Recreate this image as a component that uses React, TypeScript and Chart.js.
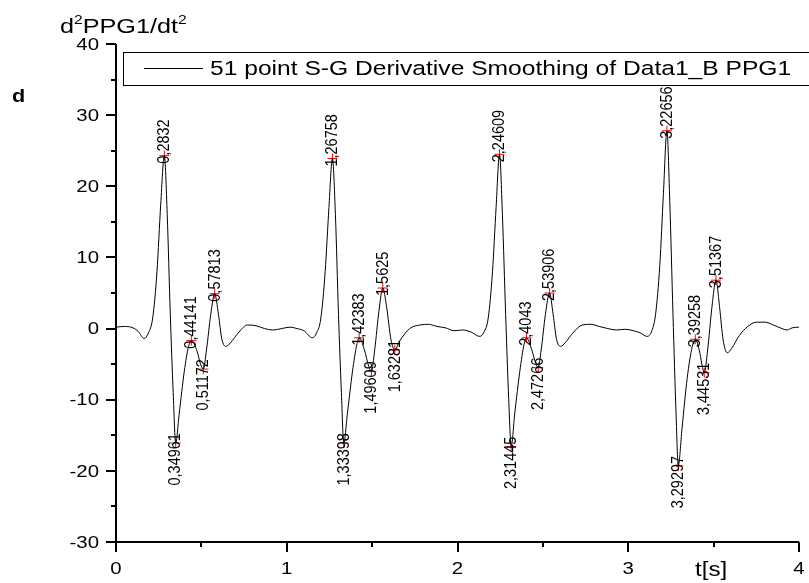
import React, { useEffect, useRef } from 'react';
import { Chart, registerables } from 'chart.js';
Chart.register(...registerables);

// ---- data ----
const curveT = [
  0.0, 0.05, 0.1, 0.13, 0.165, 0.19, 0.215, 0.24, 0.262, 0.2832, 0.3, 0.318, 0.335, 0.34961, 0.37, 0.4, 0.425, 0.44141,
  0.475, 0.495, 0.51172, 0.53, 0.555, 0.57813, 0.6, 0.62, 0.645, 0.67, 0.72, 0.77, 0.82, 0.87, 0.92, 0.97, 1.02, 1.06,
  1.1, 1.15, 1.175, 1.2, 1.225, 1.247, 1.26758, 1.285, 1.303, 1.32, 1.33398, 1.355, 1.385, 1.41, 1.42383, 1.455, 1.48,
  1.49609, 1.515, 1.54, 1.5625, 1.585, 1.61, 1.63281, 1.66, 1.72, 1.78, 1.83, 1.88, 1.93, 1.98, 2.03, 2.08, 2.13,
  2.155, 2.18, 2.205, 2.226, 2.24609, 2.263, 2.282, 2.3, 2.31445, 2.335, 2.365, 2.39, 2.4043, 2.435, 2.46, 2.47266,
  2.49, 2.515, 2.53906, 2.56, 2.58, 2.605, 2.63, 2.68, 2.73, 2.78, 2.83, 2.88, 2.93, 2.98, 3.03, 3.07, 3.11,
  3.135, 3.16, 3.185, 3.206, 3.22656, 3.243, 3.262, 3.28, 3.29297, 3.315, 3.345, 3.375, 3.39258, 3.42, 3.435, 3.44531,
  3.465, 3.49, 3.51367, 3.535, 3.555, 3.58, 3.605, 3.65, 3.7, 3.75, 3.8, 3.85, 3.9, 3.93, 3.96, 4.0,
];
const curveV = [
  0.2, 0.3, 0.1, -0.4, -1.4, -0.6, 1.5, 8, 17.5, 24.3, 16, 2, -9, -16.1, -12, -6, -2.5, -1.7,
  -3.2, -5.0, -5.7, -3, 2, 4.9, 2, -1.5, -2.5, -2.0, -0.5, 0.5, 0.4, 0.0, -0.2, 0.0, 0.2, 0.0,
  -0.3, -1.3, -0.6, 1.5, 8, 17, 23.9, 16, 2, -9, -16.1, -12, -6, -2.3, -1.3, -3, -5.3,
  -6.0, -3, 2.5, 5.7, 3, -1.5, -3.0, -1.8, 0.0, 0.5, 0.6, 0.3, 0.1, -0.3, -0.2, -0.5, -1.1,
  -0.5, 1.5, 8, 17, 24.5, 16, 2, -10, -16.6, -12, -6, -2.2, -1.3, -3, -5, -5.5,
  -3, 2, 5.0, 2, -1.5, -2.5, -2.0, -0.5, 0.5, 0.6, 0.3, 0.0, -0.2, -0.1, -0.3, -0.6, -1.1,
  -0.5, 2, 9, 19, 27.8, 18, 2, -12, -19.3, -14, -7, -2.5, -1.5, -3.5, -5.5, -6.2,
  -3, 3, 6.8, 3, -1.5, -3.4, -2.8, -1.0, 0.3, 0.9, 0.9, 0.5, 0.0, -0.2, 0.1, 0.2,
];
const markT = [
  0.2832, 0.34961, 0.44141, 0.51172, 0.57813,
  1.26758, 1.33398, 1.42383, 1.49609, 1.5625, 1.63281,
  2.24609, 2.31445, 2.4043, 2.47266, 2.53906,
  3.22656, 3.29297, 3.39258, 3.44531, 3.51367,
];
const markV = [
  24.3, -16.1, -1.7, -5.7, 4.9,
  23.9, -16.1, -1.3, -6.0, 5.7, -3.0,
  24.5, -16.6, -1.3, -5.5, 5.0,
  27.8, -19.3, -1.5, -6.2, 6.8,
];
const markIsMax = [
  true, false, true, false, true,
  true, false, true, false, true, false,
  true, false, true, false, true,
  true, false, true, false, true,
];
const xTicks = [0, 1, 2, 3, 4];
const yTicks = [-30, -20, -10, 0, 10, 20, 30, 40];
const legendLabel = '51 point S-G Derivative Smoothing of Data1_B PPG1';
const xTitle = 't[s]';
const panelLabel = 'd';

const FONT = "'Liberation Sans', Arial, sans-serif";
const STRETCH = 1.2;

function txt(ctx: any, s: string, x: number, y: number, font: string, align: string, baseline: string, stretch = STRETCH) {
  ctx.save();
  ctx.font = font;
  ctx.textAlign = align;
  ctx.textBaseline = baseline;
  ctx.translate(x, y);
  ctx.scale(stretch, 1);
  ctx.fillText(s, 0, 0);
  const w = ctx.measureText(s).width * stretch;
  ctx.restore();
  return w;
}

const decor = {
  id: 'decor',
  afterDatasetsDraw(chart: any) {
    const { ctx } = chart;
    const xs = chart.scales.x;
    const ys = chart.scales.y;
    ctx.save();
    ctx.fillStyle = '#000';
    ctx.font = `14.5px ${FONT}`;
    ctx.textBaseline = 'middle';
    for (let i = 0; i < markT.length; i++) {
      const px = xs.getPixelForValue(markT[i]);
      const py = ys.getPixelForValue(markV[i]);
      const label = String(markT[i]).replace('.', ',');
      ctx.save();
      ctx.translate(px, py);
      ctx.scale(STRETCH, 1);
      ctx.rotate(-Math.PI / 2);
      if (markIsMax[i]) {
        ctx.textAlign = 'left';
        ctx.fillText(label, -8, 0);
      } else {
        ctx.textAlign = 'right';
        ctx.fillText(label, 10, 0);
      }
      ctx.restore();
    }
    ctx.restore();
  },
  afterDraw(chart: any) {
    const { ctx, chartArea } = chart;
    const xs = chart.scales.x;
    const ys = chart.scales.y;
    const { left, right, top, bottom } = chartArea;
    ctx.save();
    ctx.strokeStyle = '#000';
    ctx.fillStyle = '#000';
    // axes
    ctx.lineWidth = 2;
    ctx.beginPath();
    ctx.moveTo(left, top);
    ctx.lineTo(left, bottom);
    ctx.moveTo(left - 1, bottom);
    ctx.lineTo(right, bottom);
    ctx.stroke();
    // y ticks
    for (let v = ys.min; v <= ys.max + 1e-9; v += 5) {
      const py = Math.round(ys.getPixelForValue(v));
      const major = Math.abs(v % 10) < 1e-9;
      const len = major ? 10 : 5;
      ctx.beginPath();
      ctx.moveTo(left - len, py);
      ctx.lineTo(left, py);
      ctx.stroke();
    }
    for (const v of yTicks) {
      txt(ctx, String(v), left - 17, ys.getPixelForValue(v) + 1, `17px ${FONT}`, 'right', 'middle');
    }
    // x ticks
    for (let v = xs.min; v <= xs.max + 1e-9; v += 0.5) {
      const px = Math.round(xs.getPixelForValue(v));
      const major = Math.abs(v % 1) < 1e-9;
      const len = major ? 10 : 5;
      ctx.beginPath();
      ctx.moveTo(px, bottom);
      ctx.lineTo(px, bottom + len);
      ctx.stroke();
    }
    for (const v of xTicks) {
      txt(ctx, String(v), xs.getPixelForValue(v), bottom + 27, `17px ${FONT}`, 'center', 'middle');
    }
    // x title
    txt(ctx, xTitle, 695, 576, `21px ${FONT}`, 'left', 'alphabetic', 1.15);
    // y title with superscripts
    let x = 60;
    const base = 33;
    const parts: [string, boolean][] = [['d', false], ['2', true], ['PPG1/dt', false], ['2', true]];
    for (const [t, sup] of parts) {
      x += txt(ctx, t, x, sup ? base - 9 : base, sup ? `13px ${FONT}` : `21px ${FONT}`, 'left', 'alphabetic');
    }
    // panel label
    txt(ctx, panelLabel, 12, 102, `bold 18px ${FONT}`, 'left', 'alphabetic');
    // legend
    ctx.lineWidth = 1;
    ctx.fillStyle = '#fff';
    ctx.fillRect(123.5, 52.5, 700, 33);
    ctx.strokeRect(123.5, 52.5, 700, 33);
    ctx.beginPath();
    ctx.moveTo(144, 68.5);
    ctx.lineTo(203, 68.5);
    ctx.stroke();
    ctx.fillStyle = '#000';
    txt(ctx, legendLabel, 210, 69, `20.5px ${FONT}`, 'left', 'middle');
    ctx.restore();
  },
};

export default function App() {
  const ref = useRef<HTMLCanvasElement | null>(null);
  useEffect(() => {
    if (!ref.current) return;
    const chart = new Chart(ref.current, {
      type: 'line',
      data: {
        datasets: [
          {
            label: legendLabel,
            data: curveT.map((t, i) => ({ x: t, y: curveV[i] })),
            borderColor: '#000',
            borderWidth: 1,
            pointRadius: 0,
            cubicInterpolationMode: 'monotone',
            fill: false,
          },
          {
            type: 'scatter',
            label: 'marks',
            data: markT.map((t, i) => ({ x: t, y: markV[i] })),
            pointStyle: 'cross',
            pointRadius: 5,
            borderColor: '#ff0000',
            backgroundColor: '#ff0000',
            borderWidth: 1,
            showLine: false,
          },
        ],
      },
      options: {
        animation: false,
        responsive: false,
        events: [],
        layout: { padding: { top: 44, right: 10, left: 0, bottom: 0 } },
        plugins: { legend: { display: false }, tooltip: { enabled: false } },
        scales: {
          x: {
            type: 'linear',
            min: 0,
            max: 4,
            ticks: { display: false },
            grid: { display: false },
            border: { display: false },
            afterFit: (s: any) => { s.height = 41; },
          },
          y: {
            type: 'linear',
            min: -30,
            max: 40,
            ticks: { display: false },
            grid: { display: false },
            border: { display: false },
            afterFit: (s: any) => { s.width = 116; },
          },
        },
      } as any,
      plugins: [decor],
    });
    return () => chart.destroy();
  }, []);
  return (
    <div style={{ position: 'fixed', left: 0, top: 0, width: 809, height: 583, background: '#fff' }}>
      <canvas ref={ref} width={809} height={583} />
    </div>
  );
}
